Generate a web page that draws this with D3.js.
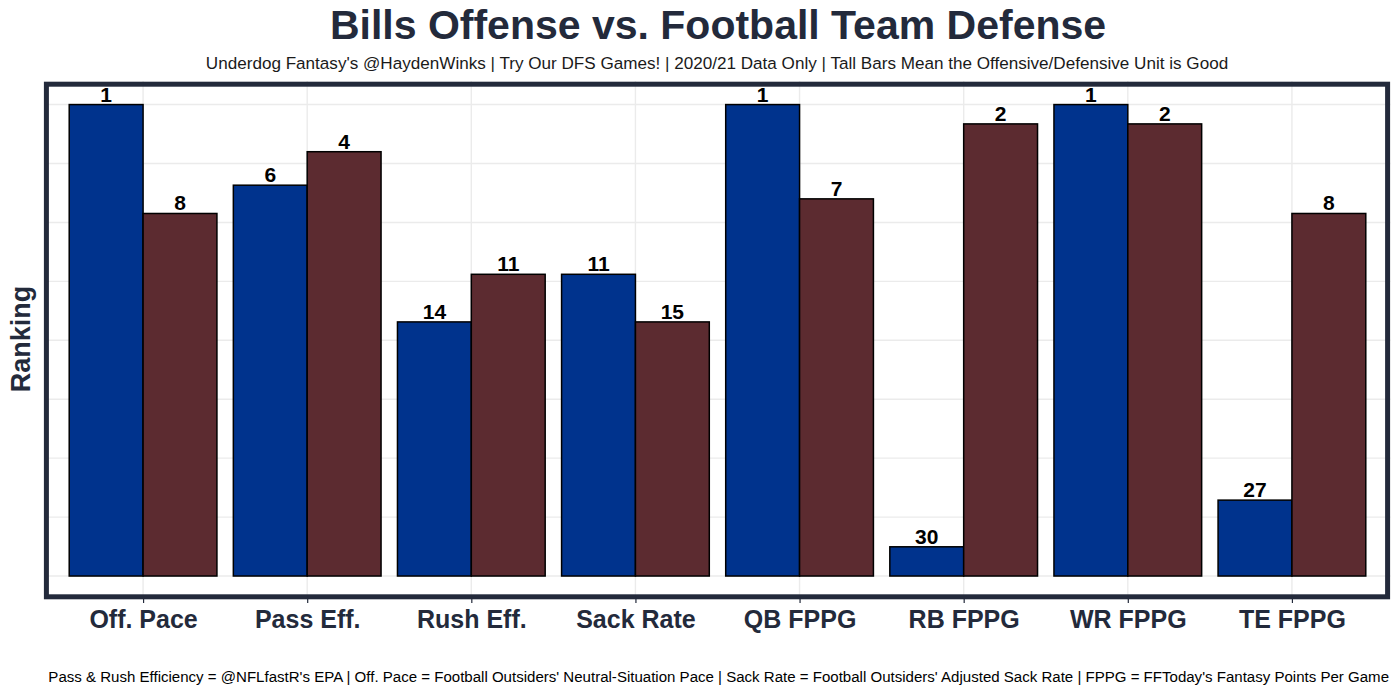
<!DOCTYPE html>
<html>
<head>
<meta charset="utf-8">
<script src="https://cdn.jsdelivr.net/npm/d3@7"></script>
<style>
  html, body { margin: 0; padding: 0; background: #ffffff; }
  svg { display: block; font-family: "Liberation Sans", Arial, Helvetica, sans-serif; }
</style>
</head>
<body>
<svg id="chart" width="1400" height="694"></svg>
<script>
// ---- data ----
const categories = ["Off. Pace", "Pass Eff.", "Rush Eff.", "Sack Rate", "QB FPPG", "RB FPPG", "WR FPPG", "TE FPPG"];
const offenseRank = [1, 6, 14, 11, 1, 30, 1, 27];
const defenseRank = [8, 4, 11, 15, 7, 2, 2, 8];
// bar heights (scaled 0-1, tall = good)
const offenseValue = [1.0, 0.829, 0.539, 0.640, 1.0, 0.062, 1.0, 0.161];
const defenseValue = [0.769, 0.900, 0.640, 0.539, 0.800, 0.959, 0.959, 0.769];
const yBreaks = [0, 0.125, 0.25, 0.375, 0.5, 0.625, 0.75, 0.875, 1.0];

const titleText = "Bills Offense vs. Football Team Defense";
const subtitleText = "Underdog Fantasy's @HaydenWinks | Try Our DFS Games! | 2020/21 Data Only | Tall Bars Mean the Offensive/Defensive Unit is Good";
const captionText = "Pass & Rush Efficiency = @NFLfastR's EPA | Off. Pace = Football Outsiders' Neutral-Situation Pace | Sack Rate = Football Outsiders' Adjusted Sack Rate | FPPG = FFToday's Fantasy Points Per Game";
const yTitle = "Ranking";

// ---- layout ----
const svg = d3.select("#chart");
const dark = "#232a3b";
const offColor = "#00338d";
const defColor = "#5c2b30";
const panel = { left: 44.6, right: 1390.4, top: 81, bottom: 599.6 };

const x = d3.scalePoint().domain(categories).range([panel.left, panel.right]).padding(0.6);
const step = x.step();
const barW = step * 0.45;
const y = d3.scaleLinear().domain([-0.05, 1.05]).range([panel.bottom, panel.top]);

// gridlines
const g = svg.append("g");
g.selectAll("line.hgrid").data(yBreaks).join("line")
  .attr("class", "hgrid")
  .attr("x1", panel.left).attr("x2", panel.right)
  .attr("y1", d => y(d)).attr("y2", d => y(d))
  .attr("stroke", "#ebebeb").attr("stroke-width", 1.4);
g.selectAll("line.vgrid").data(categories).join("line")
  .attr("class", "vgrid")
  .attr("x1", d => x(d)).attr("x2", d => x(d))
  .attr("y1", panel.top).attr("y2", panel.bottom)
  .attr("stroke", "#ebebeb").attr("stroke-width", 1.4);

// bars
const rows = categories.map((c, i) => ({ c, ov: offenseValue[i], dv: defenseValue[i], or: offenseRank[i], dr: defenseRank[i] }));
g.selectAll("rect.off").data(rows).join("rect")
  .attr("class", "off")
  .attr("x", d => x(d.c) - barW).attr("width", barW)
  .attr("y", d => y(d.ov)).attr("height", d => y(0) - y(d.ov))
  .attr("fill", offColor).attr("stroke", "#000").attr("stroke-width", 1.5);
g.selectAll("rect.def").data(rows).join("rect")
  .attr("class", "def")
  .attr("x", d => x(d.c)).attr("width", barW)
  .attr("y", d => y(d.dv)).attr("height", d => y(0) - y(d.dv))
  .attr("fill", defColor).attr("stroke", "#000").attr("stroke-width", 1.5);

// value labels
g.selectAll("text.offlab").data(rows).join("text")
  .attr("class", "offlab")
  .attr("x", d => x(d.c) - barW / 2).attr("y", d => y(d.ov) - 3)
  .attr("text-anchor", "middle").attr("font-size", 21).attr("font-weight", "bold").attr("fill", "#000")
  .text(d => d.or);
g.selectAll("text.deflab").data(rows).join("text")
  .attr("class", "deflab")
  .attr("x", d => x(d.c) + barW / 2).attr("y", d => y(d.dv) - 3)
  .attr("text-anchor", "middle").attr("font-size", 21).attr("font-weight", "bold").attr("fill", "#000")
  .text(d => d.dr);

// panel border
svg.append("rect")
  .attr("x", panel.left + 1.8).attr("y", panel.top + 3.2)
  .attr("width", panel.right - panel.left - 4.6).attr("height", panel.bottom - panel.top - 6)
  .attr("fill", "none").attr("stroke", dark).attr("stroke-width", 5);

// x axis
const xAxis = svg.append("g").attr("transform", `translate(0,${panel.bottom - 1.6})`)
  .call(d3.axisBottom(x).tickSize(5).tickPadding(7));
xAxis.select(".domain").remove();
xAxis.selectAll(".tick line").attr("stroke", dark).attr("stroke-width", 1.2);
xAxis.selectAll(".tick text")
  .attr("font-family", "'Liberation Sans', Arial, sans-serif")
  .attr("font-size", 25).attr("font-weight", "bold").attr("fill", dark)
  .attr("dy", "0.71em");

// y title
svg.append("text")
  .attr("transform", `translate(30,339) rotate(-90)`)
  .attr("text-anchor", "middle").attr("font-size", 27).attr("font-weight", "bold").attr("fill", dark)
  .text(yTitle);

// title, subtitle, caption
svg.append("text").attr("x", 718).attr("y", 39)
  .attr("text-anchor", "middle").attr("font-size", 41).attr("font-weight", "bold").attr("fill", dark)
  .text(titleText);
svg.append("text").attr("x", 717).attr("y", 69)
  .attr("text-anchor", "middle").attr("font-size", 17.1).attr("fill", "#1a1a1a")
  .text(subtitleText);
svg.append("text").attr("x", 1389).attr("y", 682)
  .attr("text-anchor", "end").attr("font-size", 15.05).attr("fill", "#000")
  .text(captionText);
</script>
</body>
</html>
